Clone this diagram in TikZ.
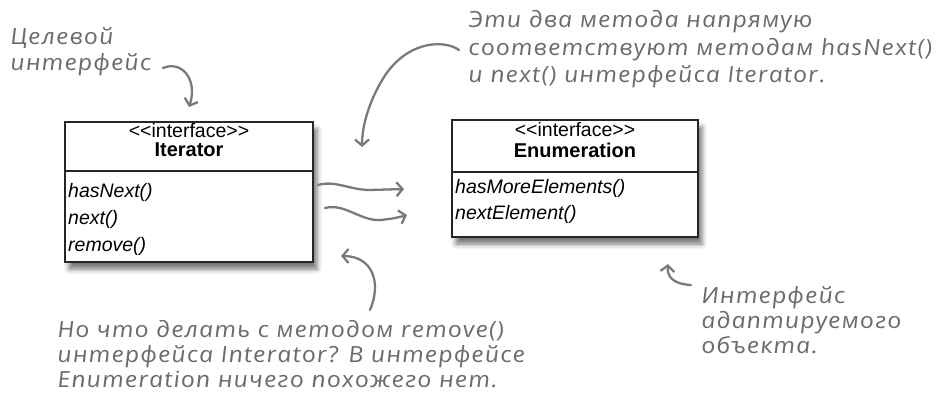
\documentclass[tikz,border=0pt]{standalone}
\usepackage{fontspec}
\setmainfont{Liberation Sans}
\newfontfamily\hand[ItalicFeatures={FakeSlant=-0.12},LetterSpace=4.5,FakeStretch=1.12]{Open Sans}
\usetikzlibrary{arrows.meta,shadows.blur}
\definecolor{notegray}{RGB}{108,108,108}
\definecolor{arrgray}{RGB}{122,122,122}
\newcommand{\stereo}{<\kern0pt<interface>\kern0pt>}
\tikzset{
  umlbox/.style={draw=black!85, line width=1.1pt, fill=white, inner sep=0pt,
    blur shadow={shadow xshift=4pt, shadow yshift=-7pt, shadow blur radius=5pt, shadow opacity=55}},
  umltxt/.style={inner sep=0pt, font=\fontsize{19.5}{21}\selectfont},
  umlname/.style={inner sep=0pt, font=\fontsize{20}{21}\selectfont\bfseries},
  umlop/.style={inner sep=0pt, anchor=west, font=\fontsize{19.5}{21}\selectfont\itshape},
  note/.style={inner sep=0pt, anchor=base west, align=left, text=notegray,
    font=\hand\itshape\fontsize{22.3}{25}\selectfont},
  hand arrow/.style={draw=arrgray, line width=2.3pt, line cap=round, line join=round,
    -{Straight Barb[length=6pt,width=14pt]}},
  divider/.style={draw=black!85, line width=1.1pt}
}
\begin{document}
\begin{tikzpicture}[x=1pt,y=-1pt]
\path[use as bounding box] (0,0) rectangle (950,403);

% Iterator box
\node[umlbox, minimum width=248pt, minimum height=140pt] (it) at (189,192) {};
\node[umltxt] (itst) at (189,131) {\stereo};
\node[umlname] (itname) at (189,150) {Iterator};
\draw[divider] (it.west |- 0,171) -- (it.east |- 0,171);
\node[umlop] (hasnext) at (68,192) {hasNext()};
\node[umlop] (next) at (68,219) {next()};
\node[umlop] (remove) at (68,246) {remove()};

% Enumeration box
\node[umlbox, minimum width=246pt, minimum height=117pt] (en) at (575,178.5) {};
\node[umltxt] (enst) at (575,130) {\stereo};
\node[umlname] (enname) at (575,150) {Enumeration};
\draw[divider] (en.west |- 0,172) -- (en.east |- 0,172);
\node[umlop] (hasmore) at (455,188) {hasMoreElements()};
\node[umlop] (nextel) at (455,214) {nextElement()};

% notes (base = baseline of the last line)
\node[note] (target) at (11,71) {Целевой\\[1pt]интерфейс};
\node[note] (twom) at (469,83) {Эти два метода напрямую\\[2.5pt]соответствуют методам hasNext()\\[2.5pt]и next() интерфейса Iterator.};
\node[note] (removeq) at (58,387) {Но что делать с методом remove()\\интерфейса Interator? В интерфейсе\\Enumeration ничего похожего нет.};
\node[note] (adaptee) at (702,353) {Интерфейс\\адаптируемого\\объекта.};

% arrow coordinates
\coordinate (a1s) at (163,68);
\coordinate (a1e) at (189,107);
\coordinate (a2s) at (459,50);
\coordinate (a2e) at (362,147);
\coordinate (w1s) at (318,185);
\coordinate (w1e) at (404,189);
\coordinate (w2s) at (325,208);
\coordinate (w2e) at (407,215);
\coordinate (a3s) at (370,310);
\coordinate (a3e) at (341,256);
\coordinate (a4s) at (691,285);
\coordinate (a4e) at (668,264);

\draw[hand arrow] (a1s) .. controls (182,60) and (198,80) .. (a1e);
\draw[hand arrow] (a2s) .. controls (445,40) and (410,40) .. (386,74) .. controls (370,98) and (362,125) .. (a2e);
\draw[hand arrow] (w1s) .. controls (335,180) and (350,190) .. (370,190) -- (w1e);
\draw[hand arrow] (w2s) .. controls (345,203) and (360,221) .. (380,220) .. controls (392,219) and (400,217) .. (w2e);
\draw[hand arrow] (a3s) .. controls (382,282) and (372,256) .. (a3e);
\draw[hand arrow] (a4s) .. controls (672,284) and (667,276) .. (a4e);
\end{tikzpicture}
\end{document}
